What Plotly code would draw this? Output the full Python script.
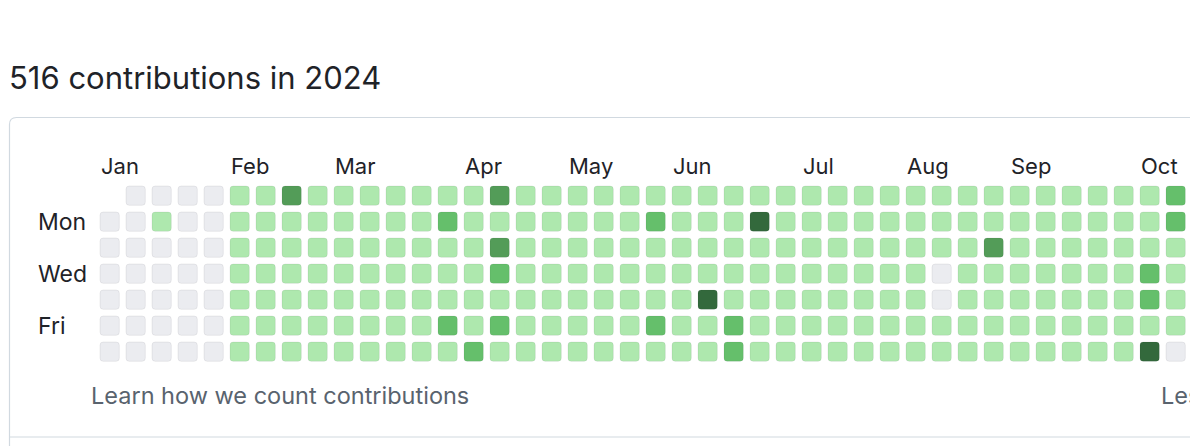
import datetime
import plotly.graph_objects as go

# contribution level per day (0-4), one list per weekday, one value per week column
# None = day outside 2024
sun = [None, 0, 0, 0, 0, 1, 1, 3, 1, 1, 1, 1, 1, 1, 1, 3, 1, 1, 1, 1, 1, 1, 1, 1, 1, 1, 1, 1, 1, 1, 1, 1, 1, 1, 1, 1, 1, 1, 1, 1, 1, 2]
mon = [0, 0, 1, 0, 0, 1, 1, 1, 1, 1, 1, 1, 1, 2, 1, 1, 1, 1, 1, 1, 1, 2, 1, 1, 1, 4, 1, 1, 1, 1, 1, 1, 1, 1, 1, 1, 1, 1, 1, 1, 1, 2]
tue = [0, 0, 0, 0, 0, 1, 1, 1, 1, 1, 1, 1, 1, 1, 1, 3, 1, 1, 1, 1, 1, 1, 1, 1, 1, 1, 1, 1, 1, 1, 1, 1, 1, 1, 3, 1, 1, 1, 1, 1, 1, 1]
wed = [0, 0, 0, 0, 0, 1, 1, 1, 1, 1, 1, 1, 1, 1, 1, 2, 1, 1, 1, 1, 1, 1, 1, 1, 1, 1, 1, 1, 1, 1, 1, 1, 0, 1, 1, 1, 1, 1, 1, 1, 2, 1]
thu = [0, 0, 0, 0, 0, 1, 1, 1, 1, 1, 1, 1, 1, 1, 1, 1, 1, 1, 1, 1, 1, 1, 1, 4, 1, 1, 1, 1, 1, 1, 1, 1, 0, 1, 1, 1, 1, 1, 1, 1, 2, 1]
fri = [0, 0, 0, 0, 0, 1, 1, 1, 1, 1, 1, 1, 1, 2, 1, 2, 1, 1, 1, 1, 1, 2, 1, 1, 2, 1, 1, 1, 1, 1, 1, 1, 1, 1, 1, 1, 1, 1, 1, 1, 1, 1]
sat = [0, 0, 0, 0, 0, 1, 1, 1, 1, 1, 1, 1, 1, 1, 2, 1, 1, 1, 1, 1, 1, 1, 1, 1, 2, 1, 1, 1, 1, 1, 1, 1, 1, 1, 1, 1, 1, 1, 1, 1, 4, 0]
levels = [sun, mon, tue, wed, thu, fri, sat]

day_labels = {1: "Mon", 3: "Wed", 5: "Fri"}
month_names = ["Jan", "Feb", "Mar", "Apr", "May", "Jun", "Jul", "Aug", "Sep", "Oct"]
total = 516
year = 2024

colors = ["#ebecf0", "#aee8ae", "#65bf6b", "#539c58", "#33693c"]
FONT = "Inter, Roboto, sans-serif"

# axis ranges are set so one data unit is one window pixel
W, H = 1190, 446
X0, Y0 = 100, 186      # left / top of first cell
STEP, CELL, R = 26, 19.3, 3.2


def rounded(x0, y0, x1, y1, r):
    return (
        f"M{x0 + r},{y0} L{x1 - r},{y0} Q{x1},{y0} {x1},{y0 + r} "
        f"L{x1},{y1 - r} Q{x1},{y1} {x1 - r},{y1} L{x0 + r},{y1} "
        f"Q{x0},{y1} {x0},{y1 - r} L{x0},{y0 + r} Q{x0},{y0} {x0 + r},{y0} Z"
    )


fig = go.Figure()

# card outline (open on the right and bottom)
fig.add_shape(
    type="path",
    path=rounded(9.5, 117.5, W + 40, H + 40, 7),
    line=dict(color="#d1d9e0", width=1.2),
    fillcolor="rgba(0,0,0,0)",
    layer="below",
)
fig.add_shape(
    type="line", x0=10, x1=W + 10, y0=437, y1=437,
    line=dict(color="#d1d9e0", width=1.2),
)

# cells, one path per level
paths = {i: [] for i in range(len(colors))}
for row, week_values in enumerate(levels):
    for col, lvl in enumerate(week_values):
        if lvl is None:
            continue
        x = X0 + col * STEP
        y = Y0 + row * STEP
        paths[lvl].append(rounded(x, y, x + CELL, y + CELL, R))

for lvl, parts in paths.items():
    if not parts:
        continue
    fig.add_shape(
        type="path",
        path=" ".join(parts),
        fillcolor=colors[lvl],
        line=dict(color="rgba(31,35,40,0.07)", width=1),
    )

# month labels at the first week column that starts inside the month
jan1 = datetime.date(year, 1, 1)
start = jan1 - datetime.timedelta(days=(jan1.weekday() + 1) % 7)
for m, name in enumerate(month_names, start=1):
    first = datetime.date(year, m, 1)
    col = (first - start).days // 7
    if first.weekday() != 6 and m > 1:
        col += 1
    fig.add_annotation(
        x=X0 + col * STEP - 1, y=166, text=name, showarrow=False,
        xanchor="left", yanchor="middle",
        font=dict(family=FONT, size=22, color="#1f2328"),
    )

for row, name in day_labels.items():
    fig.add_annotation(
        x=36, y=Y0 + row * STEP + CELL / 2, text=name, showarrow=False,
        xanchor="left", yanchor="middle",
        font=dict(family=FONT, size=23, color="#1f2328"),
    )

fig.add_annotation(
    x=7, y=77, text=f"{total} contributions in {year}", showarrow=False,
    xanchor="left", yanchor="middle",
    font=dict(family=FONT, size=31, color="#1f2328"),
)
fig.add_annotation(
    x=89, y=395, text="Learn how we count contributions", showarrow=False,
    xanchor="left", yanchor="middle",
    font=dict(family=FONT, size=23.5, color="#59636e"),
)
fig.add_annotation(
    x=1159, y=395, text="Less", showarrow=False,
    xanchor="left", yanchor="middle",
    font=dict(family=FONT, size=23.5, color="#59636e"),
)

fig.update_layout(
    width=W, height=H,
    margin=dict(l=0, r=0, t=0, b=0),
    paper_bgcolor="white", plot_bgcolor="white",
    showlegend=False,
    xaxis=dict(range=[0, W], visible=False, fixedrange=True),
    yaxis=dict(range=[H, 0], visible=False, fixedrange=True),
)

fig.write_html(
    "out.html",
    config={"displayModeBar": False},
    post_script="document.body.style.margin='0'; document.body.style.overflow='hidden';",
)
